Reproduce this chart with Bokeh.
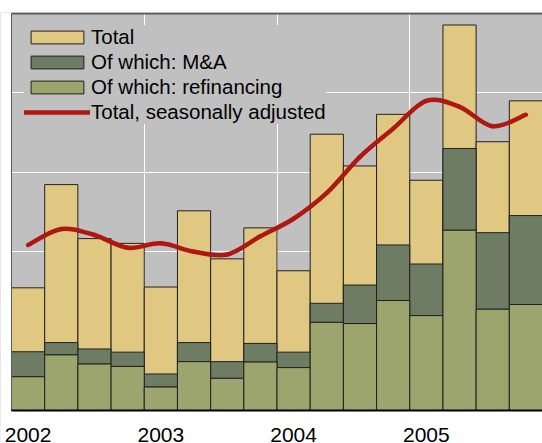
from bokeh.plotting import figure
from bokeh.models import Range1d, FixedTicker, BoxAnnotation
from bokeh.core.properties import value
from bokeh.embed import file_html
from bokeh.resources import INLINE

# ---- data ----
quarters = ["2002Q1", "2002Q2", "2002Q3", "2002Q4",
            "2003Q1", "2003Q2", "2003Q3", "2003Q4",
            "2004Q1", "2004Q2", "2004Q3", "2004Q4",
            "2005Q1", "2005Q2", "2005Q3", "2005Q4"]
total = [309, 569, 433, 421, 311, 503, 382, 460, 352, 696, 616, 746, 580, 971, 677, 780]
m_and_a = [63, 31, 38, 36, 33, 48, 42, 47, 39, 48, 97, 140, 130, 206, 193, 224]
refinancing = [85, 140, 117, 111, 59, 123, 81, 122, 108, 222, 219, 277, 239, 454, 255, 267]
sa_total = [417, 457, 442, 410, 421, 400, 393, 439, 483, 548, 639, 710, 780, 765, 716, 745]
years = ["2002", "2003", "2004", "2005"]

TAN = "#E0C882"
DARK = "#6E7C64"
OLIVE = "#9BA56D"
RED = "#AE1712"
FONT = "Liberation Sans"

# geometry (pixels): plot area 11..542 wide, 13..410 tall; year labels below it
W, H = 542, 443
LEFT, TOP, BOTTOM = 11, 13, 410
YMAX = 1000.0
px_per_y = (BOTTOM - TOP) / YMAX
px_per_x = (W - LEFT) / len(quarters)

xs = [i + 0.5 for i in range(len(quarters))]
ma_top = [r + m for r, m in zip(refinancing, m_and_a)]

p = figure(width=W, height=H,
           x_range=Range1d(-LEFT / px_per_x, len(quarters)),
           y_range=Range1d(-(H - BOTTOM) / px_per_y, YMAX + 1.0 / px_per_y),
           output_backend="svg", toolbar_location=None,
           min_border_left=0, min_border_right=0, min_border_top=TOP - 1, min_border_bottom=0)
p.background_fill_color = "#C0C0C0"
p.border_fill_color = "white"
p.outline_line_color = None
p.xaxis.visible = False
p.yaxis.visible = False

p.xgrid.ticker = FixedTicker(ticks=[4, 8, 12])
p.ygrid.ticker = FixedTicker(ticks=[200, 400, 600, 800])
p.grid.grid_line_color = "white"
p.grid.grid_line_width = 1

# white margins outside the plot area (left strip and the year-label band)
p.add_layout(BoxAnnotation(top=0, fill_color="white", fill_alpha=1.0, line_color=None, level="underlay"))
p.add_layout(BoxAnnotation(right=0, fill_color="white", fill_alpha=1.0, line_color=None, level="underlay"))

p.vbar(x=xs, bottom=0, top=total, width=1.0, fill_color=TAN, line_color="#202020",
       line_width=1, legend_label="Total")
p.vbar(x=xs, bottom=refinancing, top=ma_top, width=1.0, fill_color=DARK, line_color="#202020",
       line_width=1, legend_label="Of which: M&A")
p.vbar(x=xs, bottom=0, top=refinancing, width=1.0, fill_color=OLIVE, line_color="#202020",
       line_width=1, legend_label="Of which: refinancing")

# smooth curve through the seasonally adjusted points (Catmull-Rom as cubic Beziers)
n = len(xs)
x0, y0, x1, y1, cx0, cy0, cx1, cy1 = [], [], [], [], [], [], [], []
for i in range(n - 1):
    ip = max(i - 1, 0)
    inx = min(i + 2, n - 1)
    x0.append(xs[i]); y0.append(sa_total[i])
    x1.append(xs[i + 1]); y1.append(sa_total[i + 1])
    cx0.append(xs[i] + (xs[i + 1] - xs[ip]) / 6.0)
    cy0.append(sa_total[i] + (sa_total[i + 1] - sa_total[ip]) / 6.0)
    cx1.append(xs[i + 1] - (xs[inx] - xs[i]) / 6.0)
    cy1.append(sa_total[i + 1] - (sa_total[inx] - sa_total[i]) / 6.0)
p.bezier(x0=x0, y0=y0, x1=x1, y1=y1, cx0=cx0, cy0=cy0, cx1=cx1, cy1=cy1,
         line_color=RED, line_width=4.5, line_cap="round", legend_label="Total, seasonally adjusted")

# plot frame: left and top border, bottom axis line
p.segment(x0=[0, 0], y0=[0, YMAX], x1=[0, len(quarters)], y1=[YMAX, YMAX],
          line_color="#5A5A5A", line_width=[1, 2])
p.segment(x0=[0], y0=[0], x1=[len(quarters)], y1=[0], line_color="black", line_width=2)

# year labels under the first quarter of each year
yx = [xs[quarters.index(yr + "Q1")] for yr in years]
p.text(x=yx, y=[0] * len(years), text=years, y_offset=24,
       text_align="center", text_baseline="alphabetic",
       text_font=value(FONT), text_font_size="21px", text_color="black")

lg = p.legend[0]
lg.location = (24, 319)
lg.padding = 1
lg.spacing = 1
lg.glyph_width = 66
lg.glyph_height = 16
lg.label_height = 20
lg.label_standoff = 1
lg.label_text_font = FONT
lg.label_text_font_size = "20.5px"
lg.label_text_color = "black"
lg.background_fill_color = "#C0C0C0"
lg.background_fill_alpha = 1.0
lg.border_line_color = None

open("out.html", "w").write(file_html(p, INLINE))
